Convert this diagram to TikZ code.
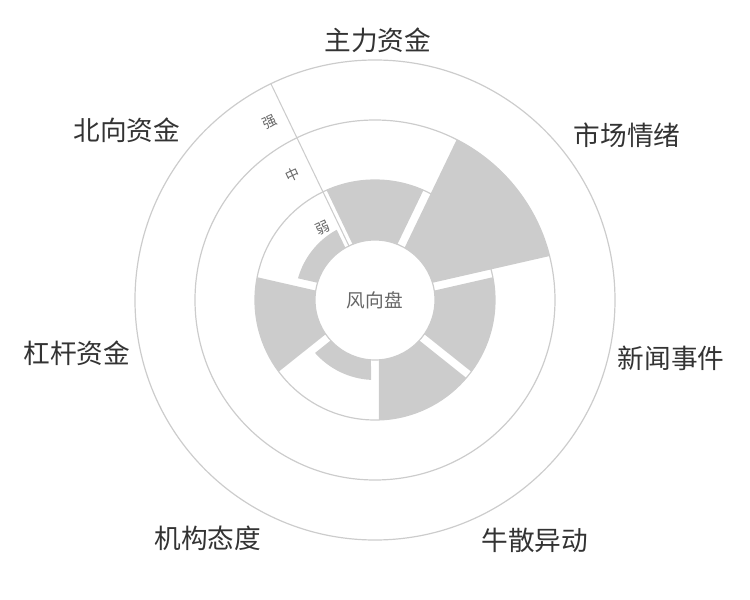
\documentclass[tikz,border=0pt]{standalone}
\usepackage{fontspec}
\setmainfont{Noto Sans CJK SC}
\definecolor{gridColor}{HTML}{cccccc}
\definecolor{barColor}{HTML}{cccccc}
\definecolor{txtColor}{HTML}{333333}
\definecolor{axisColor}{HTML}{666666}

\begin{document}
\begin{tikzpicture}[x=0.75pt,y=0.75pt,
  ring/.style={draw=gridColor, line width=0.9pt},
  catlabel/.style={text=txtColor, font=\fontsize{20}{20}\selectfont, inner sep=0pt},
  levellabel/.style={text=axisColor, font=\fontsize{10.5}{10.5}\selectfont, rotate=25, inner sep=0pt}]
	\useasboundingbox (-375,-300) rectangle (375,300);

	% Rings
	\foreach \r in {240,180,120} \draw [ring] (0,0) circle (\r);

	% Sectors: index / outer radius
	\foreach \i/\v in {0/120,1/180,2/120,3/120,4/80,5/120,6/80} {
		\pgfmathsetmacro{\a}{90-\i*360/7-180/7}
		\pgfmathsetmacro{\b}{90-\i*360/7+180/7}
		\pgfmathsetmacro{\p}{asin(4/60)}
		\pgfmathsetmacro{\q}{asin(4/\v)}
		\fill [barColor] ({\a+\p}:60) -- ({\a+\q}:\v) arc [start angle={\a+\q}, end angle={\b-\q}, radius=\v] -- ({\b-\p}:60) -- cycle;
	}

	% Hub
	\draw [ring, fill=white] (0,0) circle (60) node (hub) [text=axisColor, font=\fontsize{14}{14}\selectfont] {风向盘};

	% Level axis
	\coordinate (axisIn) at (115.7:60);
	\coordinate (axisOut) at (115.7:240);
	\draw [gridColor, line width=0.8pt] (axisIn) -- (axisOut);
	\node (weak)   [levellabel] at (-52,72)   {弱};
	\node (middle) [levellabel] at (-82,125)  {中};
	\node (strong) [levellabel] at (-105,178) {强};

	% Category labels
	\node (mainFund)  [catlabel] at (3,260)     {主力资金};
	\node (mood)      [catlabel] at (252,165)   {市场情绪};
	\node (news)      [catlabel] at (296,-58)   {新闻事件};
	\node (retail)    [catlabel] at (160,-240)  {牛散异动};
	\node (institute) [catlabel] at (-167,-238) {机构态度};
	\node (leverage)  [catlabel] at (-298,-53)  {杠杆资金};
	\node (north)     [catlabel] at (-248,170)  {北向资金};
\end{tikzpicture}
\end{document}
